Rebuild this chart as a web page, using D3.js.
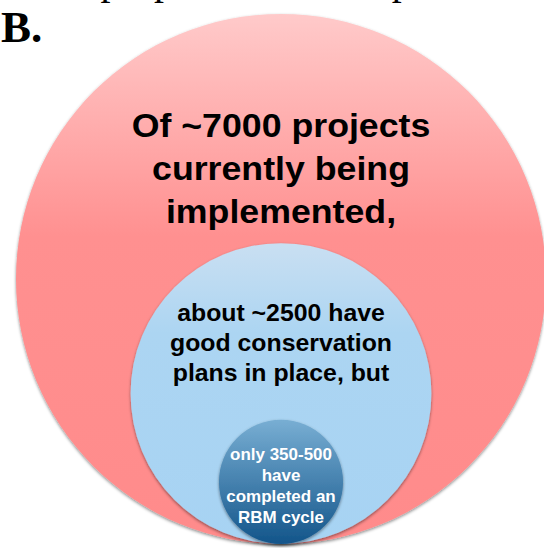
<!DOCTYPE html>
<html>
<head>
<meta charset="utf-8">
<script src="https://cdn.jsdelivr.net/npm/d3@7"></script>
<style>
  html, body { margin: 0; padding: 0; background: #fff; }
  svg { display: block; }
</style>
</head>
<body>
<div id="chart"></div>
<script>
// ---- data ----
const levels = ["implemented", "good conservation plans", "completed RBM cycle"];
const counts = [7000, 2500, 500];
const labelLines = [
  ["Of ~7000 projects", "currently being", "implemented,"],
  ["about ~2500 have", "good conservation", "plans in place, but"],
  ["only 350-500", "have", "completed an", "RBM cycle"]
];
const panelLabel = "B.";
const headerText = "ne the proportion of completed among the projects by";

// ---- layout ----
const W = 544, H = 548;
const cx = 281, bottom = 544;
const r = d3.scalePow().exponent(0.55).domain([0, 7000]).range([0, 265]);

const svg = d3.select("#chart").append("svg").attr("width", W).attr("height", H);
const defs = svg.append("defs");

const grads = [
  [[0, "#ffcaca"], [0.42, "#ff9090"], [1, "#ff8b8b"]],
  [[0, "#c9dff2"], [0.3, "#acd5f2"], [1, "#a7d3f3"]],
  [[0, "#78aed3"], [1, "#13558a"]]
];
grads.forEach((stops, i) => {
  const g = defs.append("linearGradient").attr("id", "g" + i)
    .attr("x1", 0).attr("y1", 0).attr("x2", 0).attr("y2", 1);
  stops.forEach(s => g.append("stop").attr("offset", s[0]).attr("stop-color", s[1]));
});
const f = defs.append("filter").attr("id", "sh")
  .attr("x", "-10%").attr("y", "-10%").attr("width", "120%").attr("height", "120%");
f.append("feDropShadow").attr("dx", 0).attr("dy", 1.5).attr("stdDeviation", 1.6)
  .attr("flood-color", "#000").attr("flood-opacity", 0.45);

// header text (cut off at top, only descenders visible)
svg.append("text").attr("x", -6).attr("y", -6)
  .attr("font-family", "Liberation Serif, Times New Roman, serif")
  .attr("font-size", 40).attr("fill", "#000").text(headerText);

svg.append("text").attr("x", 1).attr("y", 42)
  .attr("font-family", "Liberation Serif, Times New Roman, serif")
  .attr("font-weight", "bold").attr("font-size", 45).attr("fill", "#000").text(panelLabel);

const data = levels.map((l, i) => ({ level: l, count: counts[i], lines: labelLines[i], i }));

svg.selectAll("circle.lvl").data(data).enter().append("circle")
  .attr("class", "lvl")
  .attr("cx", cx)
  .attr("cy", d => bottom - r(d.count))
  .attr("r", d => r(d.count))
  .attr("fill", d => "url(#g" + d.i + ")")
  .attr("filter", "url(#sh)");

const textStyle = [
  { size: 34, lh: 43, off: -142, fill: "#000", sx: 1.05 },
  { size: 23, lh: 30, off: -73, fill: "#000", sx: 1.08 },
  { size: 16.5, lh: 21, off: -22, fill: "#fff", sx: 1.03 }
];

data.forEach(d => {
  const st = textStyle[d.i];
  const cy = bottom - r(d.count);
  const g = svg.append("g")
    .attr("transform", `translate(${cx},${cy + st.off}) scale(${st.sx},1)`);
  g.selectAll("text").data(d.lines).enter().append("text")
    .attr("x", 0).attr("y", (t, j) => j * st.lh)
    .attr("text-anchor", "middle")
    .attr("font-family", "Liberation Sans, Arial, sans-serif")
    .attr("font-weight", "bold")
    .attr("font-size", st.size)
    .attr("fill", st.fill)
    .text(t => t);
});
</script>
</body>
</html>
